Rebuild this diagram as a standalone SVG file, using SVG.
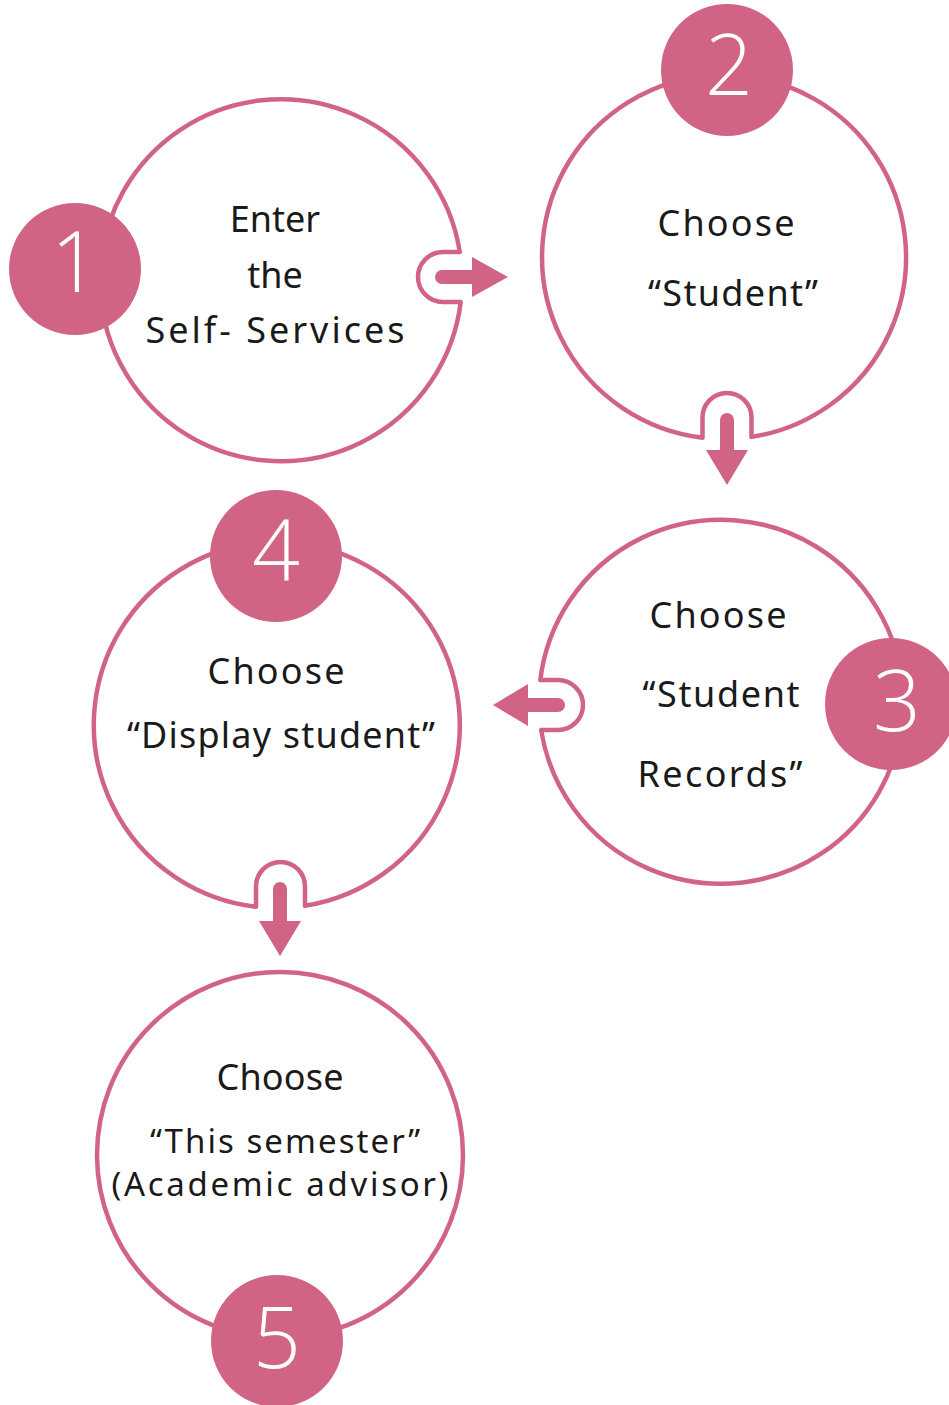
<svg xmlns="http://www.w3.org/2000/svg" width="949" height="1405" viewBox="0 0 949 1405">
<style>
.ring{fill:none;stroke:#D16485;stroke-width:4.5;stroke-linejoin:round}
.badge{fill:#D16485}
.num{font-family:"Open Sans","Liberation Sans",sans-serif;font-weight:300;font-size:84px;fill:#fff;text-anchor:middle}
.lbl{font-family:"Noto Sans","Liberation Sans",sans-serif;font-size:36px;fill:#1a1a1a;text-anchor:middle}
.sm{font-size:33px}
.shaft{stroke:#D16485;stroke-width:14;stroke-linecap:round;fill:none}
.head{fill:#D16485}
</style>
<rect width="949" height="1405" fill="#fff"/>
<g id="node1">
<path class="ring" d="M459.8,252 A181,181 0 1 0 460.7,302 L443,302 A25,25 0 0 1 443,252 Z"/>
<circle class="badge" cx="75" cy="269" r="66"/>
<text class="num" x="75" y="292">1</text>
<text class="lbl" x="275" y="232">Enter</text>
<text class="lbl" x="275" y="288">the</text>
<text class="lbl" x="275" y="343" textLength="259" lengthAdjust="spacing">Self- Services</text>
</g>
<g id="node2">
<path class="ring" d="M702.5,437.7 A182,182 0 1 1 751.5,436.9 L751.5,417.5 A24.5,24.5 0 0 0 702.5,417.5 Z"/>
<circle class="badge" cx="727" cy="70" r="66"/>
<text class="num" x="729" y="95">2</text>
<text class="lbl" x="726" y="236" textLength="137" lengthAdjust="spacing">Choose</text>
<text class="lbl" x="733" y="306" textLength="170" lengthAdjust="spacing">“Student”</text>
</g>
<g id="node3">
<path class="ring" d="M540.3,680 A182,182 0 1 1 541.2,730 L558,730 A25,25 0 0 0 558,680 Z"/>
<circle class="badge" cx="891" cy="704" r="66"/>
<text class="num" x="897" y="731">3</text>
<text class="lbl" x="718" y="628" textLength="137" lengthAdjust="spacing">Choose</text>
<text class="lbl" x="721" y="707" textLength="157" lengthAdjust="spacing">“Student</text>
<text class="lbl" x="720" y="787" textLength="165" lengthAdjust="spacing">Records”</text>
</g>
<g id="node4">
<path class="ring" d="M256,906.8 A183,183 0 1 1 305,905.8 L305,886.5 A24.5,24.5 0 0 0 256,886.5 Z"/>
<circle class="badge" cx="276" cy="556" r="66"/>
<text class="num" x="276" y="580">4</text>
<text class="lbl" x="276" y="684" textLength="137" lengthAdjust="spacing">Choose</text>
<text class="lbl" x="281" y="748" textLength="308" lengthAdjust="spacing">“Display student”</text>
</g>
<g id="node5">
<circle class="ring" cx="280" cy="1155" r="183"/>
<circle class="badge" cx="277" cy="1341" r="66"/>
<text class="num" x="277" y="1368">5</text>
<text class="lbl" x="280" y="1090" textLength="127" lengthAdjust="spacing">Choose</text>
<text class="lbl sm" x="285" y="1153" textLength="270" lengthAdjust="spacing">“This semester”</text>
<text class="lbl sm" x="280" y="1196" textLength="337" lengthAdjust="spacing">(Academic advisor)</text>
</g>
<g id="connectors">
<line class="shaft" x1="442" y1="277" x2="476" y2="277"/>
<polygon class="head" points="472,257 508,277 472,297"/>
<line class="shaft" x1="727" y1="420" x2="727" y2="454"/>
<polygon class="head" points="706,450 748,450 727,485"/>
<line class="shaft" x1="558" y1="705" x2="524" y2="705"/>
<polygon class="head" points="528,684 528,726 493,705"/>
<line class="shaft" x1="280" y1="889" x2="280" y2="925"/>
<polygon class="head" points="259,921 301,921 280,956"/>
</g>
</svg>
